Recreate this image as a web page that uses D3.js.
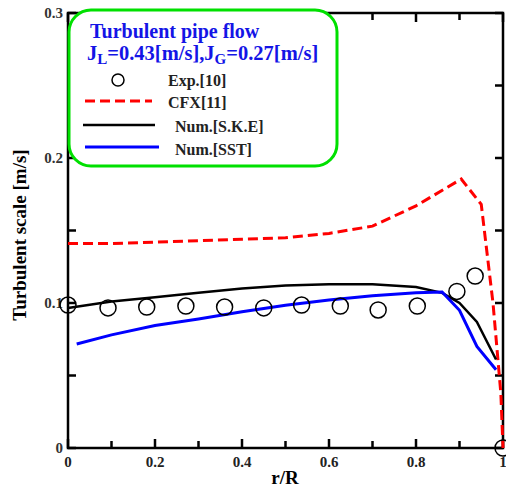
<!DOCTYPE html>
<html>
<head>
<meta charset="utf-8">
<script src="https://cdn.jsdelivr.net/npm/d3@7"></script>
<style>
    body { margin: 0; background: #fff; }
    text { font-family: "Liberation Serif", "Times New Roman", serif; font-weight: bold; }
</style>
</head>
<body>
<div id="chart"></div>
<script>

    // data
    var expX  = [0, 0.092, 0.181, 0.271, 0.360, 0.450, 0.537, 0.626, 0.713, 0.803, 0.894, 0.936, 1.0];
    var expY  = [0.0986, 0.0966, 0.0972, 0.0979, 0.0972, 0.0966, 0.0986, 0.0979, 0.0952, 0.0979, 0.108, 0.1186, 0];

    var cfxX  = [0, 0.1, 0.2, 0.3, 0.4, 0.5, 0.6, 0.7, 0.8, 0.904, 0.95, 0.977, 0.995, 1.0];
    var cfxY  = [0.141, 0.141, 0.142, 0.143, 0.144, 0.145, 0.148, 0.153, 0.167, 0.1855, 0.168, 0.10, 0.038, 0];

    var skeX  = [0, 0.1, 0.2, 0.3, 0.4, 0.5, 0.6, 0.7, 0.8, 0.86, 0.9, 0.94, 0.984];
    var skeY  = [0.0966, 0.101, 0.104, 0.107, 0.110, 0.112, 0.113, 0.113, 0.111, 0.107, 0.100, 0.087, 0.061];

    var sstX  = [0.02, 0.1, 0.2, 0.3, 0.4, 0.5, 0.6, 0.7, 0.8, 0.86, 0.9, 0.94, 0.984];
    var sstY  = [0.0717, 0.078, 0.0845, 0.089, 0.094, 0.0985, 0.102, 0.105, 0.107, 0.1076, 0.095, 0.070, 0.054];

    var xTickLabels = [0, 0.2, 0.4, 0.6, 0.8, 1];
    var yTickLabels = [0, 0.1, 0.2, 0.3];
    var legendLabels = ["Exp.[10]", "CFX[11]", "Num.[S.K.E]", "Num.[SST]"];

    // =================================================================================================================
    // SETUP
    // =================================================================================================================

    var W = 506, H = 500;
    var margin = {top: 13, right: 3, bottom: 52, left: 68},
        width = W - margin.left - margin.right,
        height = H - margin.top - margin.bottom;

    var svg = d3.select("#chart").append("svg")
        .attr("width", W)
        .attr("height", H);

    var g = svg.append("g")
        .attr("transform", "translate(" + margin.left + "," + margin.top + ")");

    var x = d3.scaleLinear().domain([0, 1]).range([0, width]);
    var y = d3.scaleLinear().domain([0, 0.3]).range([height, 0]);

    function zip(xs, ys) {
        return xs.map(function(v, i) { return [v, ys[i]]; });
    }

    var line = d3.line()
        .x(function(d) { return x(d[0]); })
        .y(function(d) { return y(d[1]); });

    // =================================================================================================================
    // AXES (ticks point inward on all four sides)
    // =================================================================================================================

    var minorX = d3.range(0, 1.0001, 0.1);
    var minorY = d3.range(0, 0.30001, 0.05);

    function tickLen(v, step) {
        return Math.abs(v / step - Math.round(v / step)) < 1e-6 ? 9 : 7;
    }

    var axes = g.append("g").attr("stroke", "#000").attr("stroke-width", 2.5);

    minorX.forEach(function(v) {
        var l = tickLen(v, 0.2);
        axes.append("line").attr("x1", x(v)).attr("x2", x(v)).attr("y1", height).attr("y2", height - l);
        axes.append("line").attr("x1", x(v)).attr("x2", x(v)).attr("y1", 0).attr("y2", l);
    });
    minorY.forEach(function(v) {
        axes.append("line").attr("x1", 0).attr("x2", 8).attr("y1", y(v)).attr("y2", y(v));
        axes.append("line").attr("x1", width).attr("x2", width - 8).attr("y1", y(v)).attr("y2", y(v));
    });

    axes.append("rect")
        .attr("x", 0).attr("y", 0)
        .attr("width", width).attr("height", height)
        .attr("fill", "none");

    g.selectAll(".xlab")
        .data(xTickLabels)
        .enter().append("text")
        .attr("class", "xlab")
        .attr("x", function(d) { return x(d); })
        .attr("y", height + 19)
        .attr("text-anchor", "middle")
        .attr("font-size", 15)
        .attr("fill", "#222")
        .text(function(d) { return d; });

    g.selectAll(".ylab")
        .data(yTickLabels)
        .enter().append("text")
        .attr("class", "ylab")
        .attr("x", -5)
        .attr("y", function(d) { return y(d) + 5; })
        .attr("text-anchor", "end")
        .attr("font-size", 15)
        .attr("fill", "#333")
        .text(function(d) { return d; });

    svg.append("text")
        .attr("x", 285).attr("y", 484)
        .attr("text-anchor", "middle")
        .attr("font-size", 19)
        .text("r/R");

    svg.append("text")
        .attr("transform", "translate(26,235) rotate(-90)")
        .attr("text-anchor", "middle")
        .attr("font-size", 19)
        .text("Turbulent scale [m/s]");

    // =================================================================================================================
    // SERIES
    // =================================================================================================================

    g.append("path")
        .datum(zip(cfxX, cfxY))
        .attr("d", line)
        .attr("fill", "none")
        .attr("stroke", "#ff0000")
        .attr("stroke-width", 3)
        .attr("stroke-dasharray", "10,5");

    g.append("path")
        .datum(zip(skeX, skeY))
        .attr("d", line)
        .attr("fill", "none")
        .attr("stroke", "#000")
        .attr("stroke-width", 2.5);

    g.append("path")
        .datum(zip(sstX, sstY))
        .attr("d", line)
        .attr("fill", "none")
        .attr("stroke", "#0000ff")
        .attr("stroke-width", 3);

    g.selectAll(".exp")
        .data(zip(expX, expY))
        .enter().append("circle")
        .attr("class", "exp")
        .attr("cx", function(d) { return x(d[0]); })
        .attr("cy", function(d) { return y(d[1]); })
        .attr("r", 8)
        .attr("fill", "none")
        .attr("stroke", "#000")
        .attr("stroke-width", 1.5);

    // =================================================================================================================
    // LEGEND
    // =================================================================================================================

    var leg = svg.append("g");

    leg.append("rect")
        .attr("x", 69).attr("y", 10)
        .attr("width", 268).attr("height", 156)
        .attr("rx", 22).attr("ry", 22)
        .attr("fill", "#fff")
        .attr("stroke", "#00e000")
        .attr("stroke-width", 3);

    leg.append("text")
        .attr("x", 90).attr("y", 38)
        .attr("font-size", 20)
        .attr("fill", "#1414e6")
        .text("Turbulent pipe flow");

    var t2 = leg.append("text")
        .attr("x", 87).attr("y", 60)
        .attr("font-size", 20.5)
        .attr("fill", "#1414e6");
    t2.append("tspan").text("J");
    t2.append("tspan").attr("font-size", 15).attr("dy", 4).text("L");
    t2.append("tspan").attr("dy", -4).text("=0.43[m/s],J");
    t2.append("tspan").attr("font-size", 15).attr("dy", 4).text("G");
    t2.append("tspan").attr("dy", -4).text("=0.27[m/s]");

    leg.append("circle")
        .attr("cx", 118).attr("cy", 80).attr("r", 6)
        .attr("fill", "none").attr("stroke", "#000").attr("stroke-width", 1.5);
    leg.append("line")
        .attr("x1", 85).attr("x2", 152).attr("y1", 101).attr("y2", 101)
        .attr("stroke", "#ff0000").attr("stroke-width", 3).attr("stroke-dasharray", "10,5");
    leg.append("line")
        .attr("x1", 83).attr("x2", 155).attr("y1", 125).attr("y2", 125)
        .attr("stroke", "#000").attr("stroke-width", 2.5);
    leg.append("line")
        .attr("x1", 85).attr("x2", 159).attr("y1", 147).attr("y2", 147)
        .attr("stroke", "#0000ff").attr("stroke-width", 3);

    var legX = [168, 168, 175, 175];
    var legY = [86, 108, 132, 155];
    leg.selectAll(".legtxt")
        .data(legendLabels)
        .enter().append("text")
        .attr("class", "legtxt")
        .attr("x", function(d, i) { return legX[i]; })
        .attr("y", function(d, i) { return legY[i]; })
        .attr("font-size", 16)
        .attr("fill", "#222")
        .text(function(d) { return d; });

</script>
</body>
</html>
